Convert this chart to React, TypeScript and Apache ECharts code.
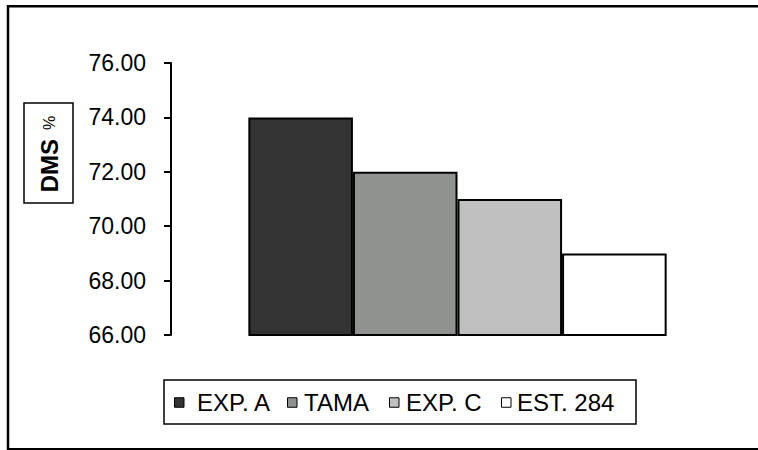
import React, { useEffect, useRef } from "react";
import * as echarts from "echarts";

const categories = [""];
const seriesNames = ["EXP. A", "TAMA", "EXP. C", "EST. 284"];
const seriesValues = [74, 72, 71, 69];
const seriesColors = ["#333333", "#8f928e", "#c0c0c0", "#ffffff"];
const yTicks = { min: 66, max: 76, interval: 2 };
const axisTitle = "DMS";
const legendLefts = [174, 287, 389, 501];
const legendTextPads = [8, 2, 2, 1];

export default function App() {
  const ref = useRef<HTMLDivElement>(null);
  useEffect(() => {
    document.body.style.margin = "0";
    const chart = echarts.init(ref.current!, null, { renderer: "svg" });
    const font = "'Liberation Sans', Arial, sans-serif";
    chart.setOption({
      animation: false,
      backgroundColor: "#ffffff",
      grid: { left: 171, right: 14, top: 63, bottom: 115, containLabel: false },
      xAxis: {
        type: "category",
        data: categories,
        axisLine: { show: false },
        axisTick: { show: false },
        axisLabel: { show: false },
        splitLine: { show: false },
      },
      yAxis: {
        type: "value",
        min: yTicks.min,
        max: yTicks.max,
        interval: yTicks.interval,
        splitLine: { show: false },
        axisLine: { show: true, lineStyle: { color: "#000", width: 2 } },
        axisTick: { show: true, length: 7, lineStyle: { color: "#000", width: 2 } },
        axisLabel: {
          color: "#000",
          fontSize: 23,
          fontFamily: font,
          margin: 25,
          formatter: (v: number) => v.toFixed(2),
        },
      },
      legend: seriesNames.map((name, i) => ({
        left: legendLefts[i],
        top: 389.5,
        icon: "rect",
        itemWidth: 9.5,
        itemHeight: 9.5,
        padding: 0,
        itemStyle: { borderColor: "#000", borderWidth: 1 },
        textStyle: {
          color: "#000",
          fontSize: 24,
          fontFamily: font,
          lineHeight: 26,
          padding: [0, 0, 0, legendTextPads[i]],
        },
        data: [name],
      })),
      series: seriesNames.map((name, i) => ({
        name,
        type: "bar",
        barGap: "0%",
        barCategoryGap: "27%",
        data: [seriesValues[i]],
        itemStyle: { color: seriesColors[i], borderColor: "#000", borderWidth: 2 },
      })),
      graphic: [
        {
          type: "rect",
          shape: { x: 8, y: 6.2, width: 800, height: 443 },
          style: { fill: "none", stroke: "#000", lineWidth: 2.5 },
          silent: true,
        },
        {
          type: "rect",
          shape: { x: 164, y: 380, width: 472, height: 44 },
          style: { fill: "none", stroke: "#000", lineWidth: 1.5 },
          silent: true,
        },
        {
          type: "rect",
          shape: { x: 24, y: 103, width: 49, height: 100 },
          style: { fill: "none", stroke: "#000", lineWidth: 1.5 },
          silent: true,
        },
        {
          type: "text",
          x: 49,
          y: 154,
          rotation: Math.PI / 2,
          style: {
            text: "{b|" + axisTitle + "}{p|%}",
            align: "center",
            verticalAlign: "middle",
            rich: {
              b: { fontSize: 24, fontWeight: "bold", fontFamily: font, fill: "#000" },
              p: { fontSize: 16, fontFamily: font, fill: "#000", padding: [0, 0, 0, 9] },
            },
          },
          silent: true,
        },
      ],
    });
    return () => chart.dispose();
  }, []);
  return <div ref={ref} style={{ width: 758, height: 450 }} />;
}
